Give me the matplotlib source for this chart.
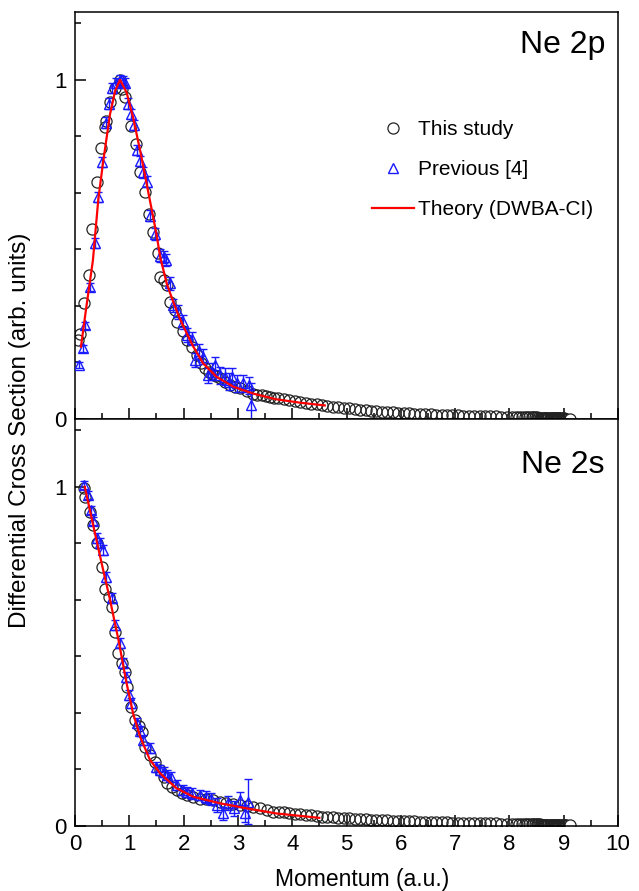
import numpy as np
import matplotlib
matplotlib.use('Agg')
from matplotlib import pyplot as plt
from matplotlib.lines import Line2D
from matplotlib.ticker import MultipleLocator, FixedLocator

plt.rcParams['font.family'] = ['Liberation Sans', 'DejaVu Sans']

# ---- Ne 2p : this study (circles) ----
p_x = [0.06, 0.10, 0.17, 0.26, 0.32, 0.40, 0.48, 0.55, 0.58, 0.65, 0.74, 0.82, 0.86, 0.93,
       1.03, 1.12, 1.20, 1.29, 1.37, 1.44, 1.52, 1.57, 1.63, 1.69, 1.75, 1.84, 1.88, 1.98,
       2.06, 2.15, 2.24, 2.32, 2.39, 2.46, 2.52, 2.60, 2.67, 2.76, 2.85, 2.95, 3.04, 3.16,
       3.28, 3.36, 3.44, 3.52, 3.59, 3.67, 3.74]
p_y = [0.232, 0.252, 0.343, 0.426, 0.559, 0.700, 0.800, 0.860, 0.880, 0.936, 0.975, 0.999, 0.973, 0.950,
       0.865, 0.810, 0.727, 0.669, 0.603, 0.551, 0.489, 0.420, 0.410, 0.394, 0.345, 0.320, 0.286, 0.260,
       0.232, 0.211, 0.188, 0.165, 0.149, 0.140, 0.134, 0.127, 0.120, 0.110, 0.100, 0.095, 0.090, 0.082,
       0.075, 0.072, 0.070, 0.068, 0.066, 0.063, 0.061]

# tail momenta shared by both measurements (very dense towards 9 a.u.)
tail_x = [3.85, 3.95, 4.05, 4.15, 4.25, 4.35, 4.45, 4.55, 4.65, 4.75, 4.85, 4.95, 5.05, 5.15,
          5.25, 5.35, 5.45, 5.55, 5.65, 5.75, 5.85, 5.95, 6.05, 6.15, 6.25, 6.35, 6.45, 6.55,
          6.65, 6.75, 6.85, 6.95, 7.05, 7.15, 7.25, 7.35, 7.45, 7.55, 7.65, 7.75, 7.85, 7.95,
          8.05, 8.12, 8.18, 8.24, 8.29, 8.33, 8.37, 8.41, 8.44, 8.47, 8.50, 8.53, 8.56, 8.59,
          8.62, 8.64, 8.66, 8.68, 8.70, 8.72, 8.74, 8.76, 8.78, 8.80, 8.82, 8.84, 8.86, 8.88,
          8.90, 8.92, 8.94, 8.96, 8.98, 9.00, 9.02, 9.04, 9.12]
p_tail_y = [0.058, 0.055, 0.052, 0.050, 0.047, 0.045, 0.043, 0.041, 0.038, 0.036, 0.034, 0.033, 0.031, 0.029,
            0.028, 0.026, 0.025, 0.023, 0.022, 0.021, 0.020, 0.019, 0.018, 0.017, 0.016, 0.015, 0.014, 0.014,
            0.013, 0.012, 0.012, 0.011, 0.011, 0.010, 0.010, 0.009, 0.009, 0.008, 0.008, 0.008, 0.007, 0.007,
            0.007, 0.006, 0.006, 0.006, 0.006, 0.005, 0.005, 0.005, 0.005, 0.005, 0.005, 0.004, 0.004, 0.004,
            0.004, 0.004, 0.004, 0.004, 0.003, 0.003, 0.003, 0.003, 0.003, 0.003, 0.003, 0.003, 0.002, 0.002,
            0.002, 0.002, 0.002, 0.002, 0.002, 0.002, 0.001, 0.001, 0.001]

# ---- Ne 2p : previous [4] (triangles) ----
pp_x = [0.08, 0.14, 0.18, 0.28, 0.36, 0.43, 0.49, 0.58, 0.63, 0.68, 0.76, 0.82, 0.88, 0.92, 0.98,
        1.04, 1.09, 1.15, 1.20, 1.25, 1.32, 1.38, 1.47, 1.57, 1.63, 1.68, 1.75, 1.81, 1.90, 1.98,
        2.06, 2.15, 2.21, 2.29, 2.36, 2.45, 2.52, 2.58, 2.67, 2.76, 2.84, 2.90, 2.98, 3.09, 3.21, 3.24]
pp_y = [0.159, 0.208, 0.276, 0.389, 0.519, 0.654, 0.757, 0.874, 0.930, 0.976, 0.990, 1.000, 0.995, 0.990, 0.930,
        0.900, 0.868, 0.793, 0.760, 0.727, 0.700, 0.600, 0.546, 0.482, 0.477, 0.468, 0.400, 0.335, 0.316, 0.286,
        0.247, 0.237, 0.174, 0.200, 0.183, 0.129, 0.140, 0.159, 0.129, 0.124, 0.110, 0.124, 0.105, 0.105, 0.100, 0.041]
pp_err = [0.010, 0.010, 0.010, 0.012, 0.015, 0.015, 0.015, 0.015, 0.015, 0.015, 0.015, 0.015, 0.015, 0.015, 0.015,
          0.015, 0.015, 0.015, 0.015, 0.015, 0.015, 0.015, 0.018, 0.018, 0.018, 0.018, 0.020, 0.020, 0.020, 0.020,
          0.020, 0.020, 0.020, 0.022, 0.022, 0.022, 0.025, 0.025, 0.025, 0.025, 0.025, 0.025, 0.025, 0.025, 0.025, 0.066]

# ---- Ne 2p : theory (DWBA-CI) ----
pt_x = [0.11, 0.20, 0.33, 0.43, 0.52, 0.645, 0.74, 0.83, 0.95, 1.07, 1.20, 1.32, 1.44, 1.50, 1.57,
        1.69, 1.81, 1.93, 2.06, 2.18, 2.36, 2.61, 2.92, 3.28, 3.71, 4.15, 4.60]
pt_y = [0.213, 0.320, 0.468, 0.649, 0.760, 0.899, 0.968, 1.000, 0.963, 0.889, 0.791, 0.693, 0.595, 0.545, 0.477,
        0.399, 0.345, 0.296, 0.252, 0.213, 0.164, 0.124, 0.095, 0.075, 0.058, 0.048, 0.040]

# ---- Ne 2s : this study (circles) ----
s_x = [0.17, 0.18, 0.28, 0.34, 0.41, 0.49, 0.56, 0.62, 0.68, 0.74, 0.80, 0.86, 0.92, 0.95,
       1.04, 1.10, 1.17, 1.23, 1.29, 1.38, 1.47, 1.57, 1.63, 1.69, 1.78, 1.87, 1.97, 2.06,
       2.18, 2.30, 2.42, 2.55, 2.67, 2.79, 2.91, 3.04, 3.16, 3.28, 3.41, 3.53, 3.65, 3.75]
s_y = [0.996, 0.971, 0.927, 0.888, 0.834, 0.765, 0.700, 0.675, 0.647, 0.573, 0.509, 0.480, 0.455, 0.411,
       0.352, 0.313, 0.295, 0.278, 0.234, 0.210, 0.190, 0.165, 0.145, 0.126, 0.115, 0.106, 0.097, 0.091,
       0.086, 0.081, 0.079, 0.077, 0.072, 0.067, 0.064, 0.062, 0.058, 0.055, 0.052, 0.047, 0.042, 0.041]
s_tail_y = [0.040, 0.038, 0.036, 0.034, 0.033, 0.031, 0.030, 0.028, 0.027, 0.026, 0.025, 0.024, 0.023, 0.022,
            0.021, 0.020, 0.019, 0.018, 0.018, 0.017, 0.016, 0.016, 0.015, 0.014, 0.014, 0.013, 0.013, 0.012,
            0.012, 0.011, 0.011, 0.010, 0.010, 0.010, 0.009, 0.009, 0.009, 0.008, 0.008, 0.008, 0.007, 0.007,
            0.007, 0.007, 0.006, 0.006, 0.006, 0.006, 0.006, 0.005, 0.005, 0.005, 0.005, 0.005, 0.005, 0.004,
            0.004, 0.004, 0.004, 0.004, 0.004, 0.004, 0.003, 0.003, 0.003, 0.003, 0.003, 0.003, 0.003, 0.003,
            0.003, 0.003, 0.002, 0.002, 0.002, 0.002, 0.002, 0.002, 0.002]

# ---- Ne 2s : previous [4] ----
sp_x = [0.17, 0.245, 0.29, 0.34, 0.40, 0.46, 0.52, 0.58, 0.68, 0.74, 0.83, 0.88, 0.94, 1.00, 1.04,
        1.14, 1.20, 1.26, 1.38, 1.50, 1.57, 1.63, 1.70, 1.76, 1.87, 1.99, 2.07, 2.15, 2.30, 2.42,
        2.50, 2.61, 2.73, 2.82, 2.92, 3.04, 3.13, 3.19]
sp_y = [1.006, 0.976, 0.932, 0.898, 0.849, 0.834, 0.814, 0.735, 0.672, 0.593, 0.539, 0.480, 0.440, 0.386, 0.362,
        0.303, 0.280, 0.254, 0.229, 0.175, 0.165, 0.160, 0.150, 0.145, 0.121, 0.106, 0.100, 0.096, 0.091, 0.086,
        0.080, 0.062, 0.037, 0.067, 0.052, 0.077, 0.037, 0.072]
sp_err = [0.012, 0.012, 0.012, 0.012, 0.015, 0.015, 0.015, 0.015, 0.015, 0.015, 0.015, 0.015, 0.015, 0.015, 0.015,
          0.015, 0.015, 0.015, 0.015, 0.015, 0.015, 0.015, 0.015, 0.015, 0.015, 0.015, 0.015, 0.015, 0.015, 0.018,
          0.018, 0.020, 0.020, 0.020, 0.022, 0.022, 0.025, 0.067]

# ---- Ne 2s : theory ----
st_x = [0.18, 0.34, 0.49, 0.645, 0.80, 0.95, 1.07, 1.20, 1.38, 1.57, 1.87, 2.18, 2.67, 3.16, 3.71, 4.50]
st_y = [1.000, 0.883, 0.775, 0.667, 0.549, 0.421, 0.332, 0.263, 0.195, 0.155, 0.111, 0.086, 0.067, 0.052, 0.037, 0.024]

BLUE = '#1a1aff'
RED = '#ff0000'
CIRC = '#222222'

fig = plt.figure(figsize=(6.39, 8.91), dpi=100)
L, R = 75 / 639, 618 / 639
ax_top = fig.add_axes([L, 1 - 419 / 891, R - L, 407 / 891])
ax_bot = fig.add_axes([L, 1 - 826 / 891, R - L, 407 / 891])

panels = [
    (ax_top, p_x + tail_x, p_y + p_tail_y, pp_x, pp_y, pp_err, pt_x, pt_y, 'Ne 2p', 0.899),
    (ax_bot, s_x + tail_x, s_y + s_tail_y, sp_x, sp_y, sp_err, st_x, st_y, 'Ne 2s', 0.868),
]

for ax, cx, cy, tx, ty, terr, lx, ly, name, ny in panels:
    ax.plot(cx[:-1], cy[:-1], 'o', ms=8, mfc='none', mec=CIRC, mew=0.9, zorder=2)
    ax.plot(cx[-1:], cy[-1:], 'o', ms=8, mfc='white', mec=CIRC, mew=0.9, zorder=2)
    ax.errorbar(tx, ty, yerr=terr, fmt='^', ms=7.2, mfc='none', mec=BLUE, mew=1.0,
                ecolor=BLUE, elinewidth=1.0, capsize=3.2, capthick=1.0, zorder=3)
    ax.plot(lx, ly, '-', color=RED, lw=1.6, zorder=4)

    ax.set_xlim(0, 10)
    ax.set_ylim(0, 1.2)
    ax.xaxis.set_major_locator(MultipleLocator(1))
    ax.xaxis.set_minor_locator(MultipleLocator(0.5))
    ax.yaxis.set_major_locator(FixedLocator([0, 1]))
    ax.yaxis.set_minor_locator(FixedLocator([k / 6 for k in range(1, 8)]))
    ax.tick_params(which='both', direction='in', top=False, right=False, width=1.1, labelsize=16)
    ax.tick_params(which='major', length=8, pad=6)
    ax.tick_params(which='minor', length=4.5)
    for sp in ax.spines.values():
        sp.set_linewidth(1.1)
    ax.text(0.976, ny, name, transform=ax.transAxes, ha='right', va='baseline', fontsize=23)

ax_top.tick_params(axis='x', labelbottom=False)
ax_bot.set_xlabel('Momentum (a.u.)', fontsize=16.5, labelpad=9)
ax_bot.xaxis.label.set_x(0.528)
fig.text(20 / 639, 1 - 430 / 891, 'Differential Cross Section (arb. units)', rotation=90,
         ha='center', va='center', fontsize=17.5)

handles = [
    Line2D([], [], ls='none', marker='o', ms=8, mfc='none', mec=CIRC, mew=0.9),
    Line2D([], [], ls='none', marker='^', ms=7.2, mfc='none', mec=BLUE, mew=1.0),
    Line2D([], [], color=RED, lw=1.6),
]
ax_top.legend(handles, ['This study', 'Previous [4]', 'Theory (DWBA-CI)'],
              loc='upper left', bbox_to_anchor=(0.547, 0.735), frameon=False, fontsize=15,
              handlelength=2.0, handletextpad=0.2, labelspacing=1.02, borderpad=0, borderaxespad=0)

fig.savefig('out.png', dpi=100)
